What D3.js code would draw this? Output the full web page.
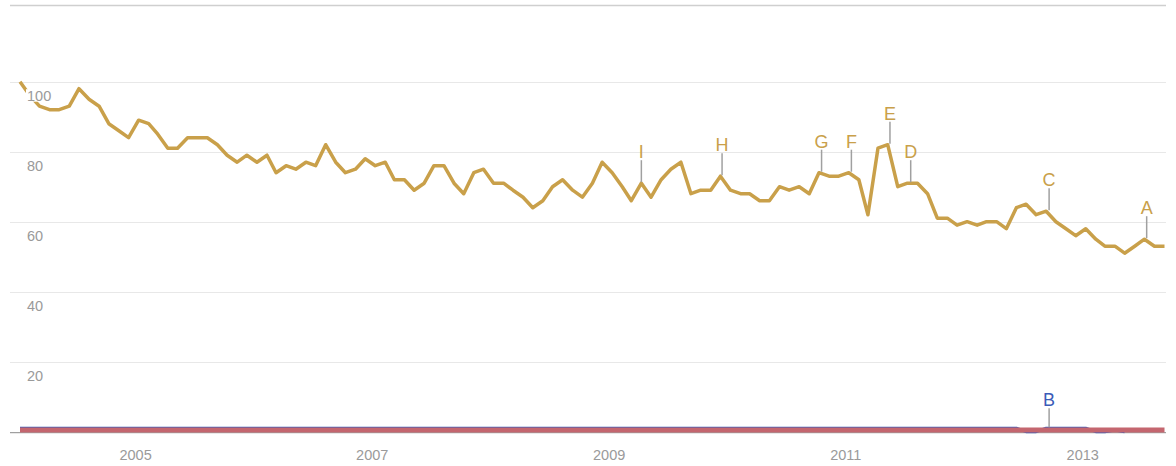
<!DOCTYPE html>
<html>
<head>
<meta charset="utf-8">
<script src="https://cdn.jsdelivr.net/npm/d3@7/dist/d3.min.js"></script>
<style>
  html, body { margin: 0; padding: 0; background: #fff; }
  svg { display: block; }
  text { font-family: Arial, "Liberation Sans", sans-serif; }
</style>
</head>
<body>
<svg id="chart" width="1176" height="466"></svg>
<script>
// ---- data (monthly, Jan 2004 .. Sep 2013) ----
const startMonth = new Date(2004, 0, 1);
const endMonth = new Date(2013, 8, 1);
const months = d3.timeMonth.range(startMonth, d3.timeMonth.offset(endMonth, 1));

const goldValues = [
  100, 96, 93, 92, 92, 93, 98, 95, 93, 88, 86, 84,
  89, 88, 85, 81, 81, 84, 84, 84, 82, 79, 77, 79,
  77, 79, 74, 76, 75, 77, 76, 82, 77, 74, 75, 78,
  76, 77, 72, 72, 69, 71, 76, 76, 71, 68, 74, 75,
  71, 71, 69, 67, 64, 66, 70, 72, 69, 67, 71, 77,
  74, 70, 66, 71, 67, 72, 75, 77, 68, 69, 69, 73,
  69, 68, 68, 66, 66, 70, 69, 70, 68, 74, 73, 73,
  74, 72, 62, 81, 82, 70, 71, 71, 68, 61, 61, 59,
  60, 59, 60, 60, 58, 64, 65, 62, 63, 60, 58, 56,
  58, 55, 53, 53, 51, 53, 55, 53, 53
];

const redValues = months.map(() => 0.5);

const blueValues = [
  1,1,1,1,1,1,1,1,1,1,1,1, 1,1,1,1,1,1,1,1,1,1,1,1,
  1,1,1,1,1,1,1,1,1,1,1,1, 1,1,1,1,1,1,1,1,1,1,1,1,
  1,1,1,1,1,1,1,1,1,1,1,1, 1,1,1,1,1,1,1,1,1,1,1,1,
  1,1,1,1,1,1,1,1,1,1,1,1, 1,1,1,1,1,1,1,1,1,1,1,1,
  1,1,1,1,1,1,0,0,1,1,1,1, 1,0,0,0.5,0
];

const yTicks = [20, 40, 60, 80, 100];
const yearTicks = [2005, 2007, 2009, 2011, 2013];

const markers = [
  { label: "I", date: new Date(2009, 3, 1), series: "gold" },
  { label: "H", date: new Date(2009, 11, 6), series: "gold" },
  { label: "G", date: new Date(2010, 9, 9), series: "gold" },
  { label: "F", date: new Date(2011, 0, 9), series: "gold" },
  { label: "E", date: new Date(2011, 4, 8), series: "gold" },
  { label: "D", date: new Date(2011, 6, 11), series: "gold" },
  { label: "C", date: new Date(2012, 8, 10), series: "gold" },
  { label: "B", date: new Date(2012, 8, 10), series: "blue" },
  { label: "A", date: new Date(2013, 6, 8), series: "gold" }
];

// ---- styles ----
const GOLD = "#c9a04a";
const RED = "#c4666f";
const BLUE = "#3b5bb8";

// ---- scales ----
const svg = d3.select("#chart");
const x = d3.scaleTime().domain([startMonth, endMonth]).range([20, 1164.5]);
const y = d3.scaleLinear().domain([0, 100]).range([431.7, 81.7]);
const left = 10, right = 1166;

// top rule
svg.append("line")
  .attr("x1", left).attr("x2", right)
  .attr("y1", 5.5).attr("y2", 5.5)
  .attr("stroke", "#cfcfcf").attr("stroke-width", 1.5);

// gridlines
svg.append("g").selectAll("line").data(yTicks).join("line")
  .attr("x1", left).attr("x2", right)
  .attr("y1", d => Math.round(y(d)) + 0.5).attr("y2", d => Math.round(y(d)) + 0.5)
  .attr("stroke", "#e8e8e8").attr("stroke-width", 1);

// baseline
svg.append("line")
  .attr("x1", left).attr("x2", right)
  .attr("y1", 432.7).attr("y2", 432.7)
  .attr("stroke", "#8a8a8a").attr("stroke-width", 1);

const lineGen = vals => d3.line()
  .x((d, i) => x(months[i]))
  .y(d => y(d))(vals);

// blue series (under red)
svg.append("path").attr("d", lineGen(blueValues))
  .attr("fill", "none").attr("stroke", BLUE).attr("stroke-width", 3)
  .attr("stroke-linejoin", "round");

// red series
svg.append("path").attr("d", lineGen(redValues))
  .attr("fill", "none").attr("stroke", RED).attr("stroke-width", 5);

// gold series
svg.append("path").attr("d", lineGen(goldValues))
  .attr("fill", "none").attr("stroke", GOLD).attr("stroke-width", 3.5)
  .attr("stroke-linejoin", "round");

// markers
const seriesMap = { gold: goldValues, blue: blueValues };
const colorMap = { gold: GOLD, blue: BLUE };
const mg = svg.append("g");
markers.forEach(m => {
  const idx = d3.timeMonth.count(startMonth, d3.timeMonth.floor(m.date));
  const v = seriesMap[m.series][idx];
  const mx = x(m.date);
  const my = y(v);
  const len = m.series === "blue" ? 20 : 23;
  mg.append("line")
    .attr("x1", mx).attr("x2", mx)
    .attr("y1", my - 1).attr("y2", my - len)
    .attr("stroke", "#a0a0a0").attr("stroke-width", 1.5);
  mg.append("text")
    .attr("x", mx).attr("y", my - len - 2)
    .attr("text-anchor", "middle")
    .attr("font-size", 18)
    .attr("fill", colorMap[m.series])
    .text(m.label);
});

// y labels (drawn on top with white backing)
const yl = svg.append("g");
yTicks.forEach(t => {
  const g = yl.append("g");
  const txt = g.append("text")
    .attr("x", 27).attr("y", y(t) + 19.5)
    .attr("font-size", 14.5)
    .attr("fill", "#9a9a9a")
    .text(t);
  const bb = txt.node().getBBox();
  g.insert("rect", "text")
    .attr("x", bb.x - 1).attr("y", bb.y + 1)
    .attr("width", bb.width + 2).attr("height", bb.height - 3.5)
    .attr("fill", "#fff");
});

// x (year) labels
svg.append("g").selectAll("text").data(yearTicks).join("text")
  .attr("x", d => x(new Date(d, 0, 1)) - 3)
  .attr("y", 460)
  .attr("text-anchor", "middle")
  .attr("font-size", 14.5)
  .attr("fill", "#9a9a9a")
  .text(d => d);
</script>
</body>
</html>
